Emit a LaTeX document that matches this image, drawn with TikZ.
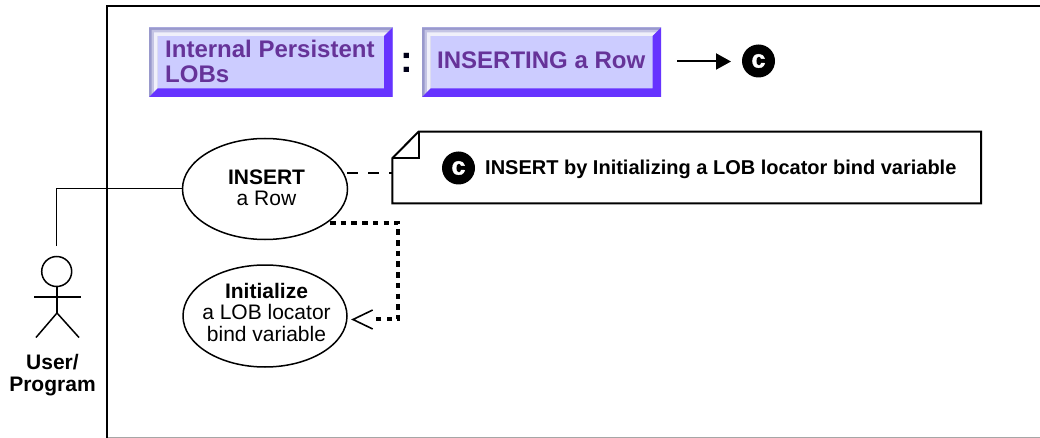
\documentclass[tikz,border=0pt]{standalone}
\usepackage{fontspec}
\setmainfont{Liberation Sans}
\newfontface\badgefont[FakeBold=1.5]{Liberation Sans Bold}
\usetikzlibrary{arrows.meta,shapes.geometric}
\definecolor{btnface}{HTML}{CCCCFF}
\definecolor{btndark}{HTML}{6633FF}
\definecolor{btnedge}{HTML}{9999CC}
\definecolor{btnmid}{HTML}{C4C4E4}
\definecolor{btnlight}{HTML}{F0F0FA}
\definecolor{btntext}{HTML}{663399}
\tikzset{
 x=1pt,y=-1pt,
 usecase/.style={draw,ellipse,line width=1.5pt,fill=white,inner sep=0pt},
 uclabel/.style={align=center,inner sep=0pt,font=\fontsize{21}{21.5}\selectfont},
 btnlabel/.style={anchor=west,align=left,text=btntext,inner sep=0pt,font=\fontsize{24}{25}\selectfont\bfseries},
 badge/.style={circle,fill=black,text=white,inner sep=0pt,minimum size=33pt,font=\fontsize{25}{25}\badgefont},
}
\newcommand{\bevelband}[6]{% x1 y1 x2 y2 inset colour
 \fill[#6] (#1+#5,#2+#5) -- (#3-#5,#2+#5) -- (#3-8.5,#2+8.5) -- (#1+8.5,#2+8.5) -- (#1+8.5,#4-8.5) -- (#1+#5,#4-#5) -- cycle;
}
\newcommand{\bevelbutton}[4]{%
 \fill[btnface] (#1,#2) rectangle (#3,#4);
 \bevelband{#1}{#2}{#3}{#4}{0}{btnedge}
 \bevelband{#1}{#2}{#3}{#4}{2.5}{btnmid}
 \bevelband{#1}{#2}{#3}{#4}{5}{btnlight}
 \fill[btndark] (#3,#2) -- (#3,#4) -- (#1,#4) -- (#1+8.5,#4-8.5) -- (#3-8.5,#4-8.5) -- (#3-8.5,#2+8.5) -- cycle;
}
\begin{document}
\begin{tikzpicture}
\useasboundingbox (0,0) rectangle (1040,438);
\fill[white] (0,0) rectangle (1040,438);
% frame
\draw[gray!70,line width=1pt] (106,437.5) -- (1040,437.5);
\draw[black,line width=2pt] (106.5,438) -- (106.5,6.5) -- (1040,6.5);
% title buttons
\bevelbutton{149}{27.5}{392.5}{97}
\bevelbutton{422}{27.5}{661}{97}
\node[btnlabel] (lobs) at (165,61.5) {Internal Persistent\\LOBs};
\node[btnlabel] (ins) at (437,60) {INSERTING a Row};
\node[inner sep=0pt,text=black!90!blue,font=\fontsize{38}{38}\selectfont\bfseries] (colon) at (407,62.5) {:};
% C badge at top
\node[badge] (c1) at (758.5,61) {c};
\coordinate (c1s) at (677,61.5);
\draw[line width=2pt,-{Triangle[length=15pt,width=16pt]}] (c1s) -- (731,61.5);
% note
\draw[line width=2pt,fill=white] (392.3,158.3) -- (418.5,131.7) -- (981,131.7) -- (981,203.5) -- (392.3,203.5) -- cycle;
\draw[line width=2pt] (392.3,158.3) -- (418.5,158.3) -- (418.5,131.7);
\node[badge] (c2) at (458.5,168) {c};
\node[anchor=west,inner sep=0pt,font=\fontsize{20}{22}\selectfont\bfseries] (notetext) at (485,169.5) {INSERT by Initializing a LOB locator bind variable};
% use cases
\node[usecase,minimum width=165pt,minimum height=101pt] (uc1) at (265,189) {};
\node[uclabel] (uc1text) at (266.5,188) {\textbf{INSERT}\\a Row};
\node[usecase,minimum width=164pt,minimum height=102pt] (uc2) at (265,316) {};
\node[uclabel] (uc2text) at (266.5,312) {\textbf{Initialize}\\a LOB locator\\bind variable};
% actor
\coordinate (head) at (56.7,271.5);
\draw[line width=1.5pt] (head) circle (15);
\draw[line width=1.5pt] (57,286.5) -- (57,313);
\draw[line width=1.5pt] (34,297) -- (81,297);
\draw[line width=1.5pt] (36,337.5) -- (57,313) -- (79,337.5);
\node[inner sep=0pt,align=center,font=\fontsize{21}{22}\selectfont\bfseries] (user) at (52.5,375.5) {User/\\Program};
% connectors
\coordinate (a1) at (56.5,246);
\draw[line width=1pt] (a1) -- (56.5,189) -- (uc1.west);
\coordinate (n1) at (392.3,172.7);
\draw[line width=2pt,dash pattern=on 11pt off 10pt] (347,172.7) -- (n1);
\draw[line width=3.8pt,dash pattern=on 5.5pt off 5.2pt] (330,222.7) -- (398.3,222.7) -- (398.3,319.3) -- (372,319.3);
\draw[line width=1.6pt] (372.7,310) -- (353,319.5) -- (372.7,329);
\end{tikzpicture}
\end{document}
